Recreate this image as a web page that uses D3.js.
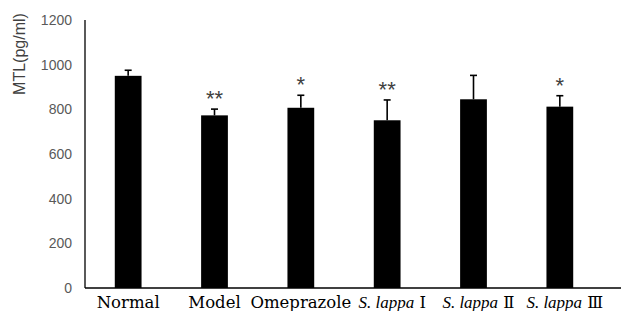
<!DOCTYPE html>
<html>
<head>
<meta charset="utf-8">
<script src="https://cdn.jsdelivr.net/npm/d3@7"></script>
<style>
  body { margin: 0; background: #fff; }
  svg { display: block; }
  .ytick text { font-family: "Liberation Sans", Arial, sans-serif; font-size: 14px; fill: #595959; }
  .xlab { font-family: "DejaVu Serif", "Liberation Serif", serif; font-size: 16.5px; fill: #000; }
  .xlab .it { font-family: "Liberation Serif", "Times New Roman", serif; font-style: italic; font-size: 17px; }
</style>
</head>
<body>
<svg id="chart" width="621" height="311"></svg>
<script>
const categories = ["Normal", "Model", "Omeprazole", "S. lappa Ⅰ", "S. lappa Ⅱ", "S. lappa Ⅲ"];
const means = [950, 773, 807, 751, 845, 812];
const errors = [25, 28, 56, 91, 107, 49];
const marks = ["", "**", "*", "**", "", "*"];
const yTicks = [0, 200, 400, 600, 800, 1000, 1200];

const margin = {top: 20, right: 18, bottom: 23, left: 85};
const W = 621, H = 311;
const height = H - margin.top - margin.bottom;

const svg = d3.select("#chart");
const g = svg.append("g").attr("transform", "translate(" + margin.left + "," + margin.top + ")");

const x = d3.scaleBand().domain(categories).range([0, W - margin.left - margin.right]).paddingInner(0.69).paddingOuter(0.345);
const y = d3.scaleLinear().domain([0, 1200]).range([height, 0]);

// y tick labels
const yt = g.append("g").attr("class", "ytick");
yt.selectAll("text").data(yTicks).enter().append("text")
  .attr("x", -13)
  .attr("y", d => y(d))
  .attr("dy", "0.35em")
  .attr("text-anchor", "end")
  .text(d => d);

// bars
g.selectAll(".bar").data(means).enter().append("rect")
  .attr("class", "bar")
  .attr("x", (d, i) => x(categories[i]))
  .attr("width", x.bandwidth())
  .attr("y", d => y(d))
  .attr("height", d => height - y(d))
  .attr("fill", "#000");

// error bars (upper only)
const eb = g.append("g").attr("stroke", "#000").attr("stroke-width", 1.6);
means.forEach((m, i) => {
  const cx = x(categories[i]) + x.bandwidth() / 2;
  eb.append("line").attr("x1", cx).attr("x2", cx).attr("y1", y(m)).attr("y2", y(m + errors[i]));
  eb.append("line").attr("x1", cx - 3.5).attr("x2", cx + 3.5).attr("y1", y(m + errors[i])).attr("y2", y(m + errors[i]));
});

// significance marks
g.selectAll(".sig").data(marks).enter().append("text")
  .attr("class", "sig")
  .attr("x", (d, i) => x(categories[i]) + x.bandwidth() / 2)
  .attr("y", (d, i) => y(means[i] + errors[i]) - 3)
  .attr("text-anchor", "middle")
  .attr("font-family", "Liberation Sans, Arial, sans-serif")
  .attr("font-size", 22)
  .attr("fill", "#404040")
  .text(d => d);

// axes lines
g.append("line").attr("x1", 0).attr("x2", 0).attr("y1", 0).attr("y2", height)
  .attr("stroke", "#000").attr("stroke-width", 1.3);
g.append("line").attr("x1", 0).attr("x2", W - margin.left).attr("y1", height).attr("y2", height)
  .attr("stroke", "#000").attr("stroke-width", 1.3);

// x labels
const xl = g.selectAll(".xlab").data(categories).enter().append("text")
  .attr("class", "xlab")
  .attr("x", d => x(d) + x.bandwidth() / 2 + (d.startsWith("S. lappa") ? 5 : 0))
  .attr("y", height + 20)
  .attr("text-anchor", "middle");
xl.each(function(d) {
  const t = d3.select(this);
  if (d.startsWith("S. lappa")) {
    t.append("tspan").attr("class", "it").text("S. lappa");
    t.append("tspan").text(" " + d.slice(9));
  } else {
    t.text(d);
  }
});

// y axis title
svg.append("text")
  .attr("transform", "translate(25,54) rotate(-90)")
  .attr("text-anchor", "middle")
  .attr("font-family", "Liberation Sans, Arial, sans-serif")
  .attr("font-size", 16)
  .attr("fill", "#404040")
  .text("MTL(pg/ml)");
</script>
</body>
</html>
